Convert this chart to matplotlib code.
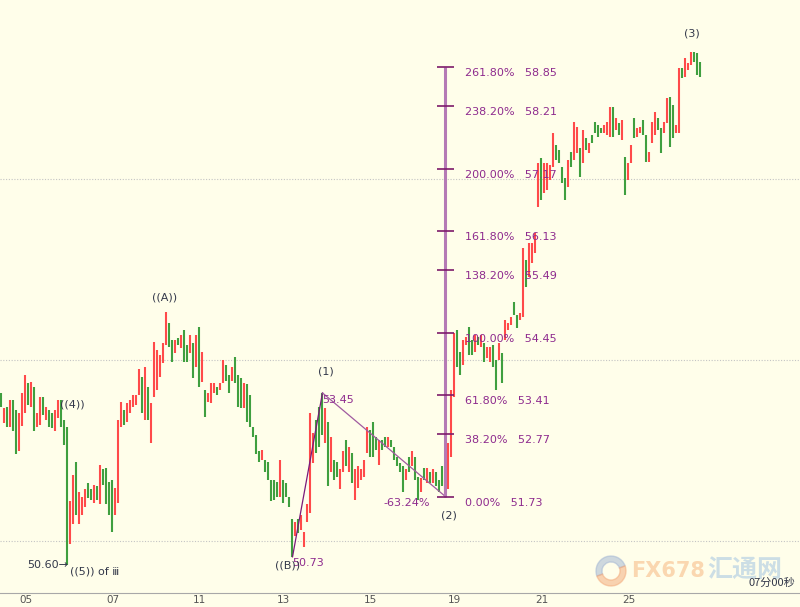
"""Hourly oil bars with Elliott wave marks and a Fibonacci extension."""

import matplotlib

matplotlib.use("Agg")
import matplotlib.pyplot as plt
from matplotlib.patches import Wedge
from matplotlib.transforms import IdentityTransform

# bar lows / highs, one hourly bar each
lows = [
    53.22, 52.95, 52.89, 52.89, 52.81, 52.43, 52.48, 52.90, 53.12, 53.25,
    53.22, 52.81, 52.89, 52.92, 53.09, 53.00, 52.89, 52.87, 52.81, 53.04,
    52.89, 52.59, 50.60, 50.94, 51.27, 51.43, 51.27, 51.43, 51.55, 51.71,
    51.68, 51.63, 51.68, 51.60, 51.93, 51.60, 51.43, 51.15, 51.43, 51.63,
    52.89, 52.92, 52.97, 53.12, 53.22, 53.25, 53.42, 53.12, 53.00, 53.00,
    52.62, 53.39, 53.50, 53.72, 53.95, 54.25, 54.22, 53.97, 54.12, 54.25,
    54.20, 53.97, 53.97, 54.12, 53.70, 53.88, 53.54, 53.63, 53.05, 53.30,
    53.29, 53.45, 53.42, 53.50, 53.62, 53.64, 53.45, 53.64, 53.62, 53.22,
    53.20, 53.20, 52.97, 52.89, 52.72, 52.43, 52.31, 52.34, 52.14, 52.01,
    51.65, 51.68, 51.73, 51.73, 51.63, 51.73, 51.56, 50.72, 51.07, 51.13,
    51.18, 50.90, 51.30, 51.46, 52.29, 52.46, 52.56, 52.75, 52.62, 51.90,
    52.13, 52.01, 52.06, 51.85, 52.13, 52.23, 52.13, 51.96, 51.68, 51.88,
    52.01, 52.06, 52.46, 52.39, 52.39, 52.51, 52.26, 52.51, 52.56, 52.56,
    52.56, 52.34, 52.23, 52.14, 51.80, 52.01, 52.13, 52.23, 52.01, 51.68,
    51.80, 52.01, 51.96, 51.96, 51.96, 51.90, 51.80, 51.90, 51.73, 51.85,
    52.39, 53.39, 53.88, 53.75, 53.92, 54.25, 54.08, 54.08, 54.13, 54.25,
    54.22, 53.97, 54.03, 53.97, 53.88, 53.50, 54.00, 53.62, 54.33, 54.50,
    54.58, 54.75, 54.53, 54.66, 54.71, 55.21, 55.38, 55.61, 55.78, 56.54,
    56.65, 56.77, 56.82, 56.99, 57.20, 57.32, 57.27, 56.94, 56.65, 56.87,
    57.20, 57.32, 57.43, 57.04, 57.27, 57.48, 57.43, 57.60, 57.76, 57.70,
    57.76, 57.76, 57.73, 57.70, 57.70, 57.81, 57.73, 57.65, 56.74, 56.99,
    57.27, 57.68, 57.70, 57.76, 57.73, 57.29, 57.29, 57.60, 57.73, 57.81,
    57.43, 57.76, 57.93, 57.53, 57.68, 57.76, 57.76, 58.68, 58.69, 58.81,
    58.89, 58.94, 58.73, 58.69,
]
highs = [
    53.45, 53.20, 53.22, 53.34, 53.34, 53.17, 53.12, 53.45, 53.75, 53.62,
    53.63, 53.55, 53.12, 53.39, 53.39, 53.22, 53.17, 53.12, 53.17, 53.34,
    53.34, 53.00, 52.89, 51.65, 52.09, 52.31, 51.80, 51.73, 51.85, 51.96,
    51.85, 51.93, 51.90, 52.26, 52.18, 52.21, 51.98, 52.01, 51.88, 53.00,
    53.30, 53.17, 53.29, 53.34, 53.42, 53.42, 53.84, 53.72, 53.88, 53.55,
    53.29, 54.30, 54.17, 54.08, 54.28, 54.80, 54.61, 54.33, 54.33, 54.36,
    54.41, 54.50, 54.25, 54.41, 54.28, 54.41, 54.55, 54.13, 53.50, 53.45,
    53.62, 53.62, 53.55, 53.62, 54.00, 53.92, 53.75, 53.88, 54.05, 53.75,
    53.70, 53.62, 53.59, 53.42, 52.89, 52.76, 52.48, 52.51, 52.34, 52.31,
    52.01, 52.01, 51.98, 52.34, 52.01, 51.96, 51.73, 51.35, 51.30, 51.35,
    51.43, 51.15, 51.60, 53.12, 52.79, 53.00, 53.22, 53.45, 53.20, 52.96,
    52.72, 52.34, 52.31, 52.18, 52.48, 52.67, 52.56, 52.46, 52.18, 52.23,
    52.18, 52.34, 52.89, 52.84, 52.97, 52.72, 52.67, 52.67, 52.72, 52.72,
    52.67, 52.56, 52.39, 52.29, 52.23, 52.18, 52.39, 52.48, 52.39, 52.06,
    52.04, 52.21, 52.21, 52.13, 52.18, 52.13, 52.01, 52.23, 52.01, 52.62,
    53.50, 54.45, 54.50, 54.13, 54.33, 54.38, 54.55, 54.33, 54.41, 54.38,
    54.41, 54.28, 54.22, 54.22, 54.25, 54.00, 54.28, 54.12, 54.66, 54.61,
    54.71, 54.96, 54.75, 54.78, 55.86, 55.66, 55.94, 55.94, 56.11, 57.27,
    57.35, 57.27, 57.27, 57.23, 57.76, 57.57, 57.48, 57.20, 57.02, 57.32,
    57.45, 57.95, 57.86, 57.52, 57.81, 57.68, 57.60, 57.73, 57.95, 57.90,
    57.85, 57.90, 57.95, 58.20, 58.20, 58.01, 57.93, 57.98, 57.37, 57.27,
    57.57, 58.01, 57.85, 57.86, 57.98, 57.73, 57.45, 57.95, 58.11, 58.01,
    57.85, 57.95, 58.35, 58.36, 58.23, 57.90, 58.84, 58.84, 59.01, 58.93,
    59.11, 59.11, 59.09, 58.94,
]
# u = bar closed up (red), d = bar closed down (green)
direction = "".join([
    "dududduuud", "uduududduu", "ddduuduuud", "dududddduu", "uduuuuudud",
    "uuuuuuddud", "uddudududu", "uuduuddudd", "dudddddudd", "ddduddddud",
    "uuuuudddud", "udduududuu", "uuuddduddu", "dddddududd", "udududdduu",
    "uudduuddud", "uduudduduu", "udduuduuuu", "duuuuddddu", "duudududdd",
    "duuudududu", "uduudduuud", "duudduuduu", "uddd",
])

day_labels = ["05", "07", "11", "13", "15", "19", "21", "25"]
day_bars = [8, 37, 66, 94, 123, 151, 180, 209]

grid_levels = [51, 54, 57]

# Fibonacci extension drawn from wave (2) using the ((B))-(1) length
fib_pcts = [0.0, 38.2, 61.8, 100.0, 138.2, 161.8, 200.0, 238.2, 261.8]
wave_b = (97, 50.73)
wave_1 = (107, 53.45)
wave_2 = (148, 51.73)

BG = "#fffeea"
UP = "#ff4a4a"
DOWN = "#3f9f3f"
PURPLE = "#8e2b8e"
LABEL = "#33384a"

assert len(lows) == len(highs) == len(direction), (len(lows), len(highs), len(direction))

fig = plt.figure(figsize=(8, 6.07), dpi=100, facecolor=BG)
ax = fig.add_axes([0, 14 / 607, 1, 593 / 607], facecolor=BG)
ax.set_xlim(-0.5, 266.17)
ax.set_ylim(50.13, 59.97)

for level in grid_levels:
    ax.axhline(level, color="#c4c4c4", linewidth=0.8, linestyle=(0, (1, 1.5)), zorder=0)

xs = list(range(len(lows)))
colors = [UP if d == "u" else DOWN for d in direction]
ax.vlines(xs, lows, highs, colors=colors, linewidth=1.5, zorder=2)

# wave lines
ax.plot([wave_b[0], wave_1[0]], [wave_b[1], wave_1[1]], color="#7a1a7a", linewidth=0.9, zorder=3)
ax.plot([wave_1[0], wave_2[0]], [wave_1[1], wave_2[1]], color="#a05aa0", linewidth=0.9, zorder=3)

# fibonacci extension
span = wave_1[1] - wave_b[1]
levels = [wave_2[1] + p / 100 * span for p in fib_pcts]
fx = wave_2[0]
ax.vlines(fx, levels[0], levels[-1], color="#b57ab5", linewidth=2.2, zorder=3)
ax.hlines(levels, fx - 2.7, fx + 2.7, color="#7d1a6a", linewidth=1.2, zorder=3)
for p, lv in zip(fib_pcts, levels):
    ax.text(fx + 6.5, lv - 0.1, f"{p:.2f}%   {lv:.2f}", color=PURPLE,
            fontsize=8, va="center", ha="left", zorder=4)

# price notes
ax.text(wave_1[0] - 0.2, wave_1[1] - 0.11, f"{wave_1[1]:.2f}", color=PURPLE,
        fontsize=8, va="center", ha="left", zorder=4)
ax.text(wave_b[0] - 0.2, wave_b[1] - 0.11, f"{wave_b[1]:.2f}", color=PURPLE,
        fontsize=8, va="center", ha="left", zorder=4)
retr = -(wave_1[1] - wave_2[1]) / span * 100
ax.text(135.2, 51.63, f"{retr:.2f}%", color=PURPLE, fontsize=8, va="center", ha="center", zorder=4)

# wave labels
wave_labels = [
    ("((4))", 23.5, 53.25),
    ("((A))", 54.5, 55.04),
    ("(1)", 108.2, 53.80),
    ("(2)", 149.2, 51.42),
    ("(3)", 230.2, 59.41),
    ("((B))", 95.5, 50.58),
]
for txt, x, y in wave_labels:
    ax.text(x, y, txt, color=LABEL, fontsize=8, ha="center", va="center", zorder=5)
ax.text(22.2, lows[22], f"{lows[22]:.2f}\u2192", color=LABEL, fontsize=8,
        ha="right", va="center", zorder=5)
ax.text(22.8, 50.49, "((5)) of \u2172", color=LABEL, fontsize=8, ha="left", va="center", zorder=5)

# axis
for side in ("top", "left", "right"):
    ax.spines[side].set_visible(False)
ax.spines["bottom"].set_color("#a8a8a8")
ax.set_yticks([])
ax.set_xticks(day_bars)
ax.set_xticklabels(day_labels)
ax.tick_params(axis="x", length=0, pad=1.5, labelsize=7.5, labelcolor="#555555")

# watermark
ident = IdentityTransform()
fig.patches.append(Wedge((611, 36), 15, 20, 200, width=6, color="#9fb3d3", alpha=0.5,
                         transform=ident, figure=fig))
fig.patches.append(Wedge((611, 36), 15, 200, 380, width=6, color="#f3a777", alpha=0.5,
                         transform=ident, figure=fig))
fig.text(631 / 800, 36 / 607, "FX678", color="#f6a86a", alpha=0.45, fontsize=15,
         fontweight="bold", ha="left", va="center")
fig.text(707 / 800, 37 / 607, "汇通网", color="#8fb8e0", alpha=0.45, fontsize=18,
         fontweight="bold", ha="left", va="center", family=["Noto Sans CJK SC", "DejaVu Sans"])
fig.text(795 / 800, 24 / 607, "07分00秒", color=LABEL, fontsize=8, ha="right", va="center",
         family=["Noto Sans CJK SC", "DejaVu Sans"], zorder=5)

fig.savefig("out.png", dpi=100, facecolor=BG)
